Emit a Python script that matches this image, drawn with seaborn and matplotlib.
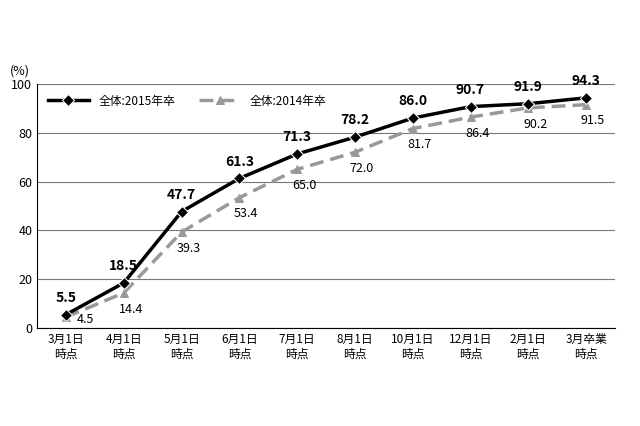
import matplotlib
matplotlib.use("Agg")
import matplotlib.pyplot as plt
import seaborn as sns
import pandas as pd

categories = ["3月1日\n時点", "4月1日\n時点", "5月1日\n時点", "6月1日\n時点", "7月1日\n時点",
              "8月1日\n時点", "10月1日\n時点", "12月1日\n時点", "2月1日\n時点", "3月卒業\n時点"]
v2015 = [5.5, 18.5, 47.7, 61.3, 71.3, 78.2, 86.0, 90.7, 91.9, 94.3]
v2014 = [4.5, 14.4, 39.3, 53.4, 65.0, 72.0, 81.7, 86.4, 90.2, 91.5]
yticks = [0, 20, 40, 60, 80, 100]

plt.rcParams["font.family"] = "Noto Sans CJK JP"
fig = plt.figure(figsize=(6.4, 4.26), dpi=100)
ax = fig.add_axes([0.058, 0.23, 0.903, 0.573])
x = list(range(len(categories)))
df = pd.DataFrame({"x": x, "a": v2015, "b": v2014})
sns.lineplot(data=df, x="x", y="b", ax=ax, color="#999999", lw=2.5, linestyle=(0, (4, 2)),
             marker="^", markersize=6, markeredgecolor="#999999", label="全体:2014年卒", zorder=3)
sns.lineplot(data=df, x="x", y="a", ax=ax, color="black", lw=2.5,
             marker="D", markersize=6, label="全体:2015年卒", zorder=4)
for i in x:
    ax.text(i, v2015[i] + 4, f"{v2015[i]:.1f}", ha="center", va="bottom", fontsize=10, fontweight="bold")
    if i == 0:
        ax.text(i + 0.18, v2014[i] - 1, f"{v2014[i]:.1f}", ha="left", va="center", fontsize=9)
    else:
        ax.text(i + 0.12, v2014[i] - 4, f"{v2014[i]:.1f}", ha="center", va="top", fontsize=9)
ax.set_xlim(-0.5, 9.5)
ax.set_ylim(0, 100)
ax.set_yticks(yticks)
ax.set_xticks(x)
ax.set_xticklabels(categories, fontsize=8.5)
ax.tick_params(axis="y", labelsize=9, length=0)
ax.tick_params(axis="x", length=0)
ax.grid(axis="y", color="#777777", lw=0.8)
ax.set_axisbelow(True)
for s in ["top", "right"]:
    ax.spines[s].set_visible(False)
ax.set_xlabel("")
ax.set_ylabel("")
h, l = ax.get_legend_handles_labels()
ax.legend(h[::-1], l[::-1], loc="upper left", ncol=2, frameon=False, fontsize=8.5,
          bbox_to_anchor=(0.0, 1.0), handlelength=3.5)
fig.text(0.015, 0.825, "(%)", fontsize=9)
fig.savefig("out.png", dpi=100)
